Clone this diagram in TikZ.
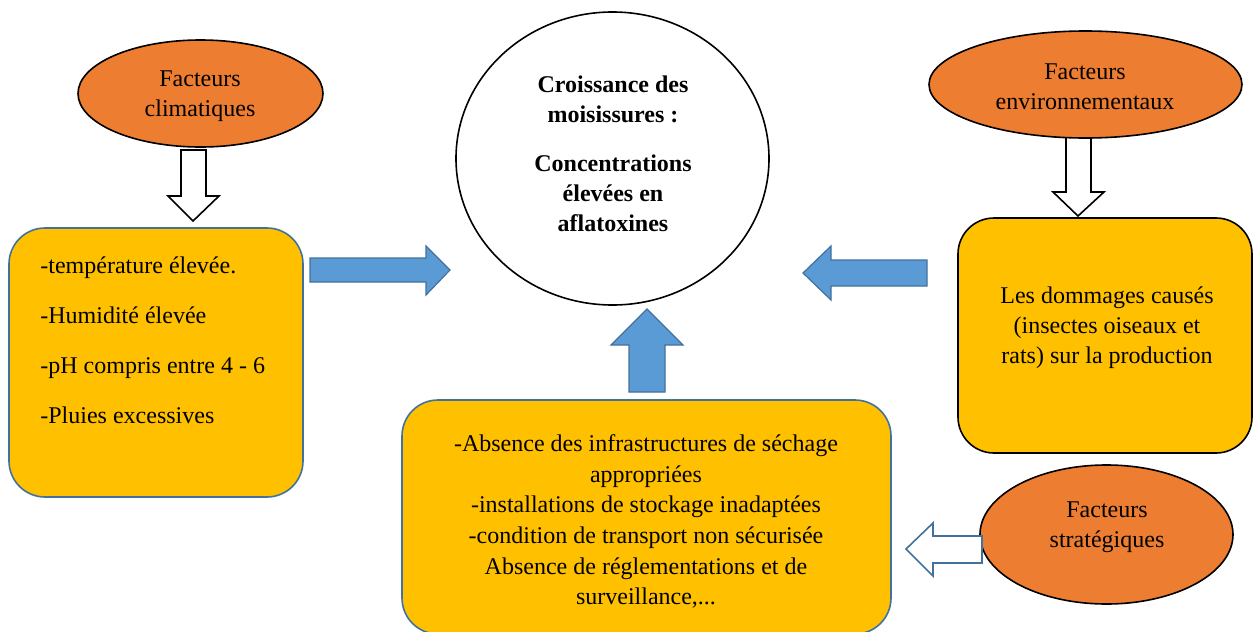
\documentclass[tikz,border=0pt]{standalone}
\usepackage{fontspec}
\setmainfont{Liberation Serif}
\usetikzlibrary{shapes.geometric}
\definecolor{orangeF}{HTML}{ED7D31}
\definecolor{yellowF}{HTML}{FFC000}
\definecolor{blueF}{HTML}{5B9BD5}
\definecolor{blueL}{HTML}{41719C}
\begin{document}
\begin{tikzpicture}[x=0.5pt,y=-0.5pt,
 oval/.style={ellipse, draw=black, line width=0.8pt, fill=orangeF, inner sep=0pt},
 box/.style={rectangle, rounded corners=18pt, fill=yellowF, line width=0.8pt, inner sep=0pt},
 txt/.style={font=\fontsize{12}{15}\selectfont, align=center, inner sep=0pt},
 blockarrow/.style={fill=blueF, draw=blueL, line width=0.6pt},
 openarrow/.style={fill=white, draw=black, line width=0.8pt}]
\useasboundingbox (0,0) rectangle (1255,632);

% open arrows (drawn before ellipses so the ellipses cap them)
\draw[openarrow] (181,150) -- (206,150) -- (206,196) -- (219,196) -- (193,221) -- (168,196) -- (181,196) -- cycle;
\draw[openarrow] (1066,135) -- (1091,135) -- (1091,192) -- (1104,192) -- (1078,216) -- (1053,192) -- (1066,192) -- cycle;

% ellipses
\node[oval, minimum width=122.5pt, minimum height=53.5pt] (clim) at (200.5,93.5) {};
\node[oval, minimum width=156.5pt, minimum height=53.5pt] (env) at (1085.5,84.5) {};
\node[oval, minimum width=126.5pt, minimum height=69.5pt] (strat) at (1106.5,534.5) {};
\node[ellipse, draw=black, line width=0.8pt, fill=white, inner sep=0pt, minimum width=156.5pt, minimum height=146.5pt] (circ) at (612.5,158.5) {};

% boxes
\node[box, draw=blueL, minimum width=147pt, minimum height=134.5pt] (lbox) at (156,362.5) {};
\node[box, draw=black, minimum width=147pt, minimum height=117.5pt] (rbox) at (1105,335.5) {};
\node[box, draw=blueL, minimum width=244.5pt, minimum height=117pt] (bbox) at (646.5,517) {};

% blue block arrows
\draw[blockarrow] (310,258) -- (426,258) -- (426,246) -- (450,270) -- (426,295) -- (426,282) -- (310,282) -- cycle;
\draw[blockarrow] (927,260) -- (831,260) -- (831,246) -- (803,273) -- (831,300) -- (831,286) -- (927,286) -- cycle;
\draw[blockarrow] (629,392) -- (629,345) -- (611,345) -- (647,309) -- (683,345) -- (665,345) -- (665,392) -- cycle;
\draw[fill=white, draw=blueL, line width=0.8pt] (982,536) -- (933,536) -- (933,523) -- (906,549) -- (933,576) -- (933,563) -- (982,563) -- cycle;

% texts
\node[txt] (tclim) at (200,96) {Facteurs\\climatiques};
\node[txt] (tenv) at (1085,87) {Facteurs\\environnementaux};
\node[txt] (tstrat) at (1107,527) {Facteurs\\stratégiques};
\node[txt, font=\fontsize{12}{15}\selectfont\bfseries] (tcirc) at (613,154) {Croissance des\\moisissures :\\[9.5pt]Concentrations\\élevées en\\aflatoxines};
\node[txt, align=left, anchor=west] (tleft) at (40,340) {-température élevée.\\[10pt]-Humidité élevée\\[10pt]-pH compris entre 4 - 6\\[10pt]-Pluies excessives};
\node[txt, font=\fontsize{12}{15.3}\selectfont] (tbot) at (646,521.5) {-Absence des infrastructures de séchage\\appropriées\\-installations de stockage inadaptées\\-condition de transport non sécurisée\\Absence de réglementations et de\\surveillance,...};
\node[txt] (tright) at (1107,328) {Les dommages causés\\(insectes oiseaux et\\rats) sur la production};
\end{tikzpicture}
\end{document}
